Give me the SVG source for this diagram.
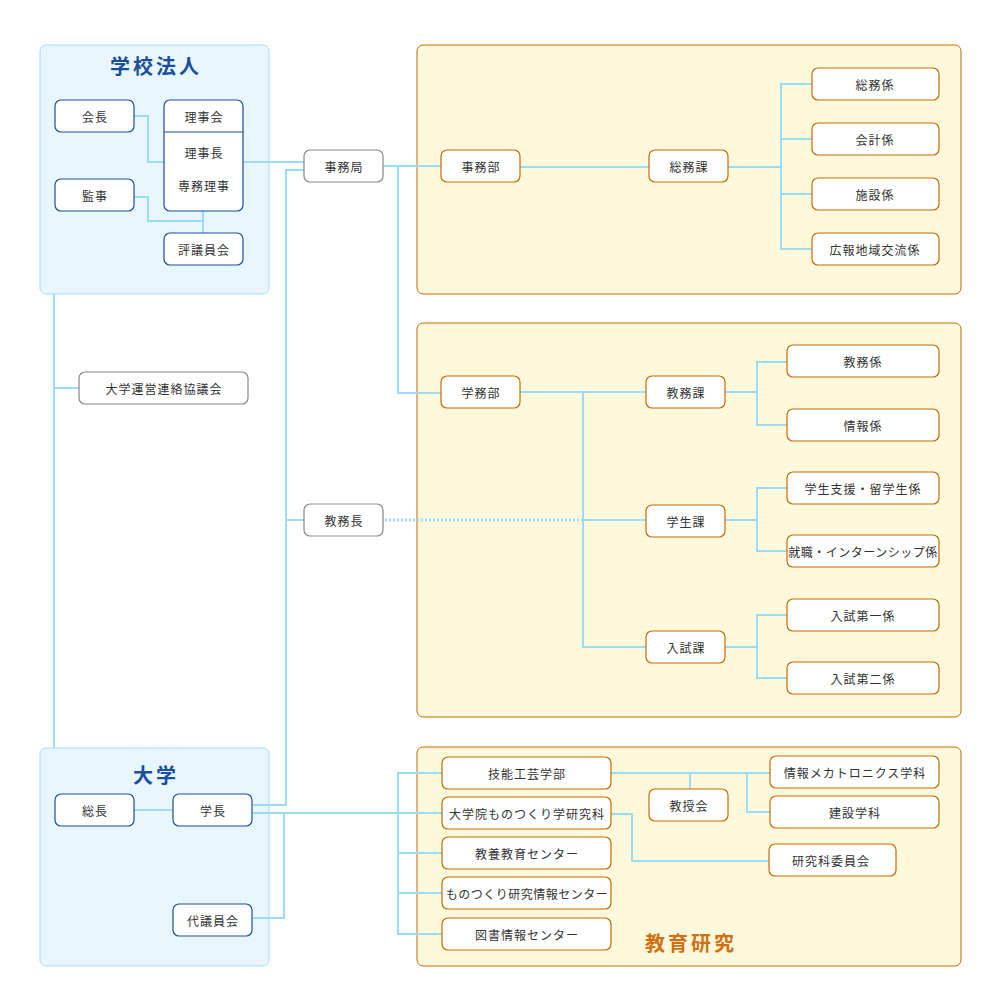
<svg xmlns="http://www.w3.org/2000/svg" width="1000" height="1000" viewBox="0 0 1000 1000">
<style>
.bg{fill:#fff}
.pb{fill:#e9f6fd;stroke:#a6dcf5;stroke-width:1}
.py{fill:#fef9dc;stroke:#c86a00;stroke-width:1}
.nb{fill:#fff;stroke:#1a4f9c;stroke-width:1.2}
.ng{fill:#fff;stroke:#888;stroke-width:1.2}
.no{fill:#fff;stroke:#c86a00;stroke-width:1.2}
text{font-family:"Noto Sans CJK JP","Noto Sans",sans-serif;font-size:12px;fill:#333;text-anchor:middle;dominant-baseline:central;letter-spacing:1px}
.tb{font-size:20px;font-weight:bold;fill:#1a4f9c;letter-spacing:3px}
.to{font-size:20px;font-weight:bold;fill:#d07010;letter-spacing:3px}
.c{fill:none;stroke:#9bdcf8;stroke-width:2}
.d{fill:none;stroke:#9bdcf8;stroke-width:3;stroke-dasharray:2 2}
</style>
<rect class="bg" width="1000" height="1000"/>
<g id="panels">
<rect class="pb" x="40" y="45" width="229" height="249" rx="6"/>
<rect class="pb" x="40" y="748" width="229" height="218" rx="6"/>
<rect class="py" x="417" y="45" width="544" height="249" rx="6"/>
<rect class="py" x="417" y="323" width="544" height="394" rx="6"/>
<rect class="py" x="417" y="747" width="544" height="219" rx="6"/>
<text class="tb" x="156" y="65">学校法人</text>
<text class="tb" x="156" y="774">大学</text>
<text class="to" x="691" y="942">教育研究</text>
</g>
<g id="connectors">
<polyline class="c" points="134,116 148,116 148,162 164,162"/>
<polyline class="c" points="134,197 148,197 148,221 203,221"/>
<line class="c" x1="203" y1="211" x2="203" y2="233"/>
<line class="c" x1="203" y1="162" x2="203" y2="177"/>
<line class="c" x1="243" y1="162" x2="304" y2="162"/>
<polyline class="c" points="304,170 286,170 286,805 253,805"/>
<line class="c" x1="286" y1="520" x2="304" y2="520"/>
<line class="c" x1="383" y1="166" x2="441" y2="166"/>
<polyline class="c" points="398,166 398,393 441,393"/>
<line class="c" x1="520" y1="167" x2="649" y2="167"/>
<line class="c" x1="728" y1="167" x2="781" y2="167"/>
<polyline class="c" points="812,84 781,84 781,249 812,249"/>
<line class="c" x1="781" y1="139" x2="812" y2="139"/>
<line class="c" x1="781" y1="194" x2="812" y2="194"/>
<line class="c" x1="520" y1="392" x2="646" y2="392"/>
<polyline class="c" points="583,392 583,647 646,647"/>
<line class="c" x1="583" y1="520" x2="646" y2="520"/>
<line class="d" x1="385" y1="520" x2="582" y2="520"/>
<line class="c" x1="725" y1="392" x2="757" y2="392"/>
<polyline class="c" points="787,362 757,362 757,425 787,425"/>
<line class="c" x1="725" y1="520" x2="757" y2="520"/>
<polyline class="c" points="787,488 757,488 757,551 787,551"/>
<line class="c" x1="725" y1="647" x2="757" y2="647"/>
<polyline class="c" points="787,615 757,615 757,678 787,678"/>
<line class="c" x1="54" y1="294" x2="54" y2="748"/>
<line class="c" x1="54" y1="388" x2="79" y2="388"/>
<line class="c" x1="134" y1="810" x2="173" y2="810"/>
<line class="c" x1="253" y1="813" x2="442" y2="813"/>
<polyline class="c" points="284,813 284,918 253,918"/>
<polyline class="c" points="442,773 398,773 398,934 442,934"/>
<line class="c" x1="398" y1="853" x2="442" y2="853"/>
<line class="c" x1="398" y1="893" x2="442" y2="893"/>
<line class="c" x1="611" y1="773" x2="770" y2="773"/>
<line class="c" x1="690" y1="773" x2="690" y2="789"/>
<polyline class="c" points="747,773 747,812 770,812"/>
<polyline class="c" points="611,814 632,814 632,861 769,861"/>
</g>
<g id="n-kaicho"><rect class="nb" x="55" y="100" width="79" height="32" rx="6"/><text x="95" y="116">会長</text></g>
<g id="n-rijikai"><rect class="nb" x="164" y="100" width="79" height="111" rx="6"/><line x1="164" y1="132" x2="243" y2="132" stroke="#1a4f9c" stroke-width="1.2"/><text x="204" y="116">理事会</text><text x="204" y="152">理事長</text><text x="204" y="185">専務理事</text></g>
<g id="n-kanji"><rect class="nb" x="55" y="179" width="79" height="32" rx="6"/><text x="95" y="195">監事</text></g>
<g id="n-hyogiin"><rect class="nb" x="164" y="233" width="79" height="32" rx="6"/><text x="204" y="249">評議員会</text></g>
<g id="n-jimukyoku"><rect class="ng" x="304" y="150" width="79" height="32" rx="6"/><text x="344" y="166">事務局</text></g>
<g id="n-kyomucho"><rect class="ng" x="304" y="504" width="79" height="32" rx="6"/><text x="344" y="520">教務長</text></g>
<g id="n-renraku"><rect class="ng" x="79" y="372" width="169" height="32" rx="6"/><text x="164" y="388">大学運営連絡協議会</text></g>
<g id="n-jimubu"><rect class="no" x="441" y="150" width="79" height="32" rx="6"/><text x="481" y="166">事務部</text></g>
<g id="n-somuka"><rect class="no" x="649" y="150" width="79" height="32" rx="6"/><text x="689" y="166">総務課</text></g>
<g id="n-somukakari"><rect class="no" x="812" y="68" width="127" height="32" rx="6"/><text x="875" y="84">総務係</text></g>
<g id="n-kaikei"><rect class="no" x="812" y="123" width="127" height="32" rx="6"/><text x="875" y="139">会計係</text></g>
<g id="n-shisetsu"><rect class="no" x="812" y="178" width="127" height="32" rx="6"/><text x="875" y="194">施設係</text></g>
<g id="n-koho"><rect class="no" x="812" y="233" width="127" height="32" rx="6"/><text x="875" y="249">広報地域交流係</text></g>
<g id="n-gakumubu"><rect class="no" x="441" y="376" width="79" height="32" rx="6"/><text x="481" y="392">学務部</text></g>
<g id="n-kyomuka"><rect class="no" x="646" y="376" width="79" height="32" rx="6"/><text x="686" y="392">教務課</text></g>
<g id="n-gakuseika"><rect class="no" x="646" y="505" width="79" height="32" rx="6"/><text x="686" y="521">学生課</text></g>
<g id="n-nyushika"><rect class="no" x="646" y="631" width="79" height="32" rx="6"/><text x="686" y="647">入試課</text></g>
<g id="n-kyomukakari"><rect class="no" x="787" y="345" width="152" height="32" rx="6"/><text x="863" y="361">教務係</text></g>
<g id="n-joho"><rect class="no" x="787" y="409" width="152" height="32" rx="6"/><text x="863" y="425">情報係</text></g>
<g id="n-shien"><rect class="no" x="787" y="472" width="152" height="32" rx="6"/><text x="863" y="488">学生支援・留学生係</text></g>
<g id="n-shushoku"><rect class="no" x="787" y="535" width="152" height="32" rx="6"/><text x="863" y="551" style="letter-spacing:0.5px">就職・インターンシップ係</text></g>
<g id="n-nyushi1"><rect class="no" x="787" y="599" width="152" height="32" rx="6"/><text x="863" y="615">入試第一係</text></g>
<g id="n-nyushi2"><rect class="no" x="787" y="662" width="152" height="32" rx="6"/><text x="863" y="678">入試第二係</text></g>
<g id="n-socho"><rect class="nb" x="55" y="794" width="79" height="32" rx="6"/><text x="95" y="810">総長</text></g>
<g id="n-gakucho"><rect class="nb" x="173" y="794" width="79" height="32" rx="6"/><text x="213" y="810">学長</text></g>
<g id="n-daigiin"><rect class="nb" x="173" y="904" width="79" height="32" rx="6"/><text x="213" y="920">代議員会</text></g>
<g id="n-ginou"><rect class="no" x="442" y="757" width="169" height="32" rx="6"/><text x="527" y="773">技能工芸学部</text></g>
<g id="n-daigakuin"><rect class="no" x="442" y="797" width="169" height="32" rx="6"/><text x="527" y="813">大学院ものつくり学研究科</text></g>
<g id="n-kyoyo"><rect class="no" x="442" y="837" width="169" height="32" rx="6"/><text x="527" y="853">教養教育センター</text></g>
<g id="n-monotsukuri"><rect class="no" x="442" y="877" width="169" height="32" rx="6"/><text x="527" y="893" style="letter-spacing:0.5px">ものつくり研究情報センター</text></g>
<g id="n-tosho"><rect class="no" x="442" y="918" width="169" height="32" rx="6"/><text x="527" y="934">図書情報センター</text></g>
<g id="n-kyojukai"><rect class="no" x="649" y="789" width="79" height="32" rx="6"/><text x="689" y="805">教授会</text></g>
<g id="n-mecha"><rect class="no" x="770" y="756" width="169" height="32" rx="6"/><text x="855" y="772">情報メカトロニクス学科</text></g>
<g id="n-kensetsu"><rect class="no" x="770" y="796" width="169" height="32" rx="6"/><text x="855" y="812">建設学科</text></g>
<g id="n-kenkyuka"><rect class="no" x="769" y="844" width="127" height="32" rx="6"/><text x="831" y="860">研究科委員会</text></g>
</svg>
